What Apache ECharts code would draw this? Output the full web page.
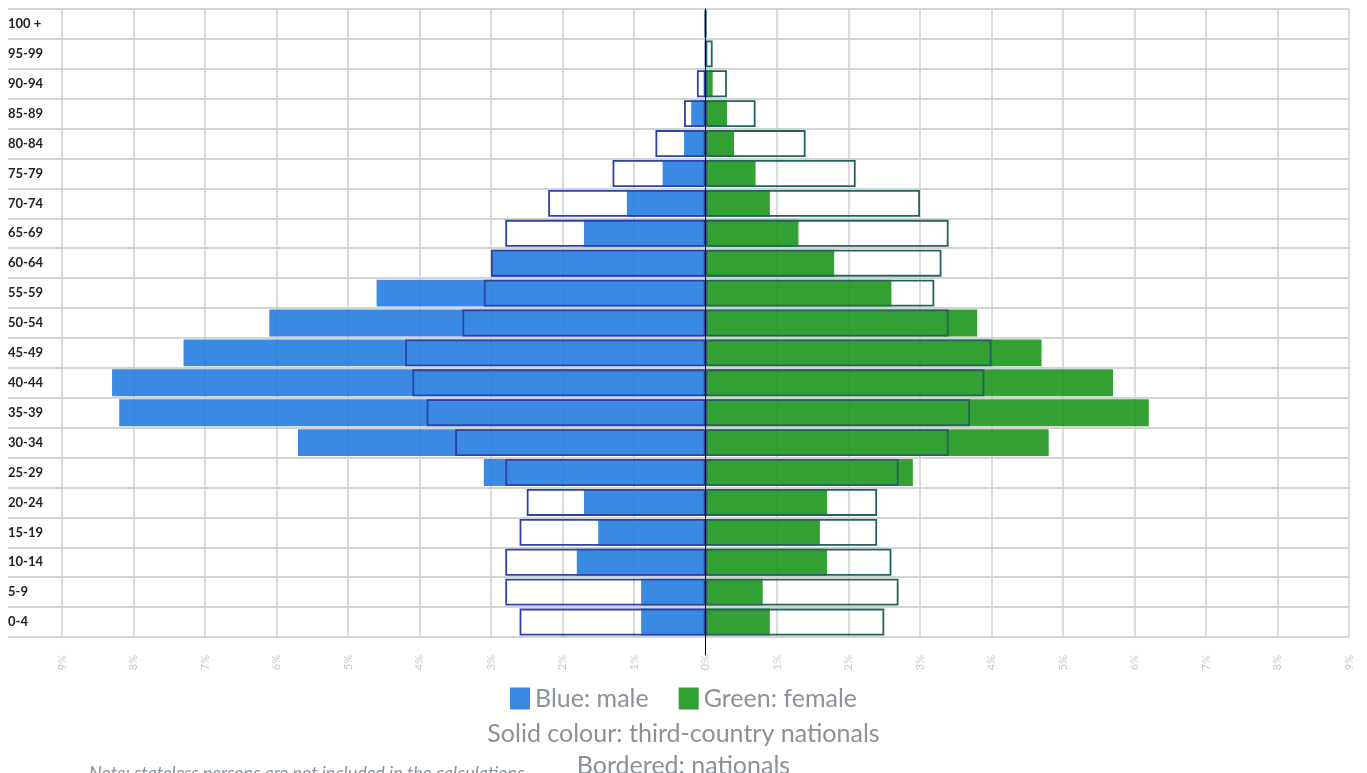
<!DOCTYPE html>
<html>
<head>
<meta charset="utf-8">
<script src="https://cdn.jsdelivr.net/npm/echarts@6/dist/echarts.min.js"></script>
<style>
html,body{margin:0;padding:0;background:#fff;}
#chart{width:1367px;height:773px;}
</style>
</head>
<body>
<div id="chart"></div>
<script>
// Age groups, top to bottom
var ageGroups = ['100 +','95-99','90-94','85-89','80-84','75-79','70-74','65-69','60-64','55-59','50-54','45-49','40-44','35-39','30-34','25-29','20-24','15-19','10-14','5-9','0-4'];
// Share of population (%), male third-country nationals (solid blue)
var maleTCN = [0, 0, 0, 0.2, 0.3, 0.6, 1.1, 1.7, 3.0, 4.6, 6.1, 7.3, 8.3, 8.2, 5.7, 3.1, 1.7, 1.5, 1.8, 0.9, 0.9];
// male nationals (bordered)
var maleNat = [0, 0, 0.12, 0.3, 0.7, 1.3, 2.2, 2.8, 3.0, 3.1, 3.4, 4.2, 4.1, 3.9, 3.5, 2.8, 2.5, 2.6, 2.8, 2.8, 2.6];
// female third-country nationals (solid green)
var femaleTCN = [0, 0, 0.1, 0.3, 0.4, 0.7, 0.9, 1.3, 1.8, 2.6, 3.8, 4.7, 5.7, 6.2, 4.8, 2.9, 1.7, 1.6, 1.7, 0.8, 0.9];
// female nationals (bordered)
var femaleNat = [0, 0.1, 0.3, 0.7, 1.4, 2.1, 3.0, 3.4, 3.3, 3.2, 3.4, 4.0, 3.9, 3.7, 3.4, 2.7, 2.4, 2.4, 2.6, 2.7, 2.5];
var axisMin = -9, axisMax = 9, axisStep = 1;

var neg = function (arr) { return arr.map(function (v) { return -v; }); };
var textGray = '#8b9197';
var font = 'Lato';

var chart = echarts.init(document.getElementById('chart'));
chart.setOption({
  animation: false,
  title: [
    {
      text: 'Solid colour: third-country nationals',
      left: 'center', top: 713,
      textStyle: { color: textGray, fontSize: 25, fontWeight: 'normal', fontFamily: font, lineHeight: 32 }
    },
    {
      text: 'Bordered: nationals',
      left: 'center', top: 745,
      textStyle: { color: textGray, fontSize: 25, fontWeight: 'normal', fontFamily: font, lineHeight: 32 }
    },
    {
      text: 'Note: stateless persons are not included in the calculations.',
      left: 84, top: 757,
      textStyle: { color: textGray, fontSize: 18, fontStyle: 'italic', fontWeight: 'normal', fontFamily: font, lineHeight: 22 }
    }
  ],
  legend: {
    data: ['Blue: male', 'Green: female'],
    left: 'center', top: 681,
    icon: 'rect', itemWidth: 20, itemHeight: 22, itemGap: 30,
    textStyle: { color: textGray, fontSize: 25, fontFamily: font }
  },
  grid: [
    { left: 62, right: 18, top: 9, height: 628 },
    { left: 8, right: 18, top: 9, height: 628 },
    { left: 62, right: 18, top: 9, height: 646 }
  ],
  xAxis: [
    {
      gridIndex: 0, type: 'value', min: axisMin, max: axisMax, interval: axisStep,
      axisLine: { show: false }, axisTick: { show: false },
      splitLine: { show: true, lineStyle: { color: '#cfcfcf', width: 1.5 } },
      axisLabel: {
        rotate: 90, margin: 18, color: '#c9c9c9', fontSize: 11, fontFamily: font,
        formatter: function (v) { return Math.abs(v) + '%'; }
      }
    },
    { gridIndex: 1, type: 'value', min: 0, max: 1, show: false },
    { gridIndex: 2, type: 'value', min: axisMin, max: axisMax, show: false }
  ],
  yAxis: [
    {
      gridIndex: 0, type: 'category', data: ageGroups, inverse: true,
      axisLine: { show: false }, axisTick: { show: false }, axisLabel: { show: false },
      splitLine: { show: false }
    },
    {
      gridIndex: 1, type: 'category', data: ageGroups, inverse: true,
      axisLine: { show: false }, axisTick: { show: false },
      splitLine: { show: true, lineStyle: { color: '#d4d4d4', width: 2 } },
      axisLabel: { align: 'left', margin: 0, color: '#222', fontWeight: 'bold', fontSize: 13, fontFamily: font }
    },
    {
      gridIndex: 2, type: 'value', min: 0, max: 1, z: 10,
      axisLine: { show: true, onZero: true, lineStyle: { color: '#000', width: 1 } },
      axisTick: { show: false }, axisLabel: { show: false }, splitLine: { show: false }
    }
  ],
  series: [
    {
      name: 'Blue: male', type: 'bar', xAxisIndex: 0, yAxisIndex: 0,
      data: neg(maleTCN), barGap: '-100%', barCategoryGap: '10%',
      itemStyle: { color: '#2980e1', opacity: 0.92 }
    },
    {
      name: 'Green: female', type: 'bar', xAxisIndex: 0, yAxisIndex: 0,
      data: femaleTCN, barGap: '-100%', barCategoryGap: '10%',
      itemStyle: { color: '#219821', opacity: 0.92 }
    },
    {
      name: 'Male nationals', type: 'bar', xAxisIndex: 0, yAxisIndex: 0,
      data: neg(maleNat), barGap: '-100%', barCategoryGap: '10%',
      itemStyle: { color: 'rgba(0,0,0,0)', borderColor: '#2c43a6', borderWidth: 1.8 }
    },
    {
      name: 'Female nationals', type: 'bar', xAxisIndex: 0, yAxisIndex: 0,
      data: femaleNat, barGap: '-100%', barCategoryGap: '10%',
      itemStyle: { color: 'rgba(0,0,0,0)', borderColor: '#24625d', borderWidth: 1.8 }
    }
  ]
});
</script>
</body>
</html>
